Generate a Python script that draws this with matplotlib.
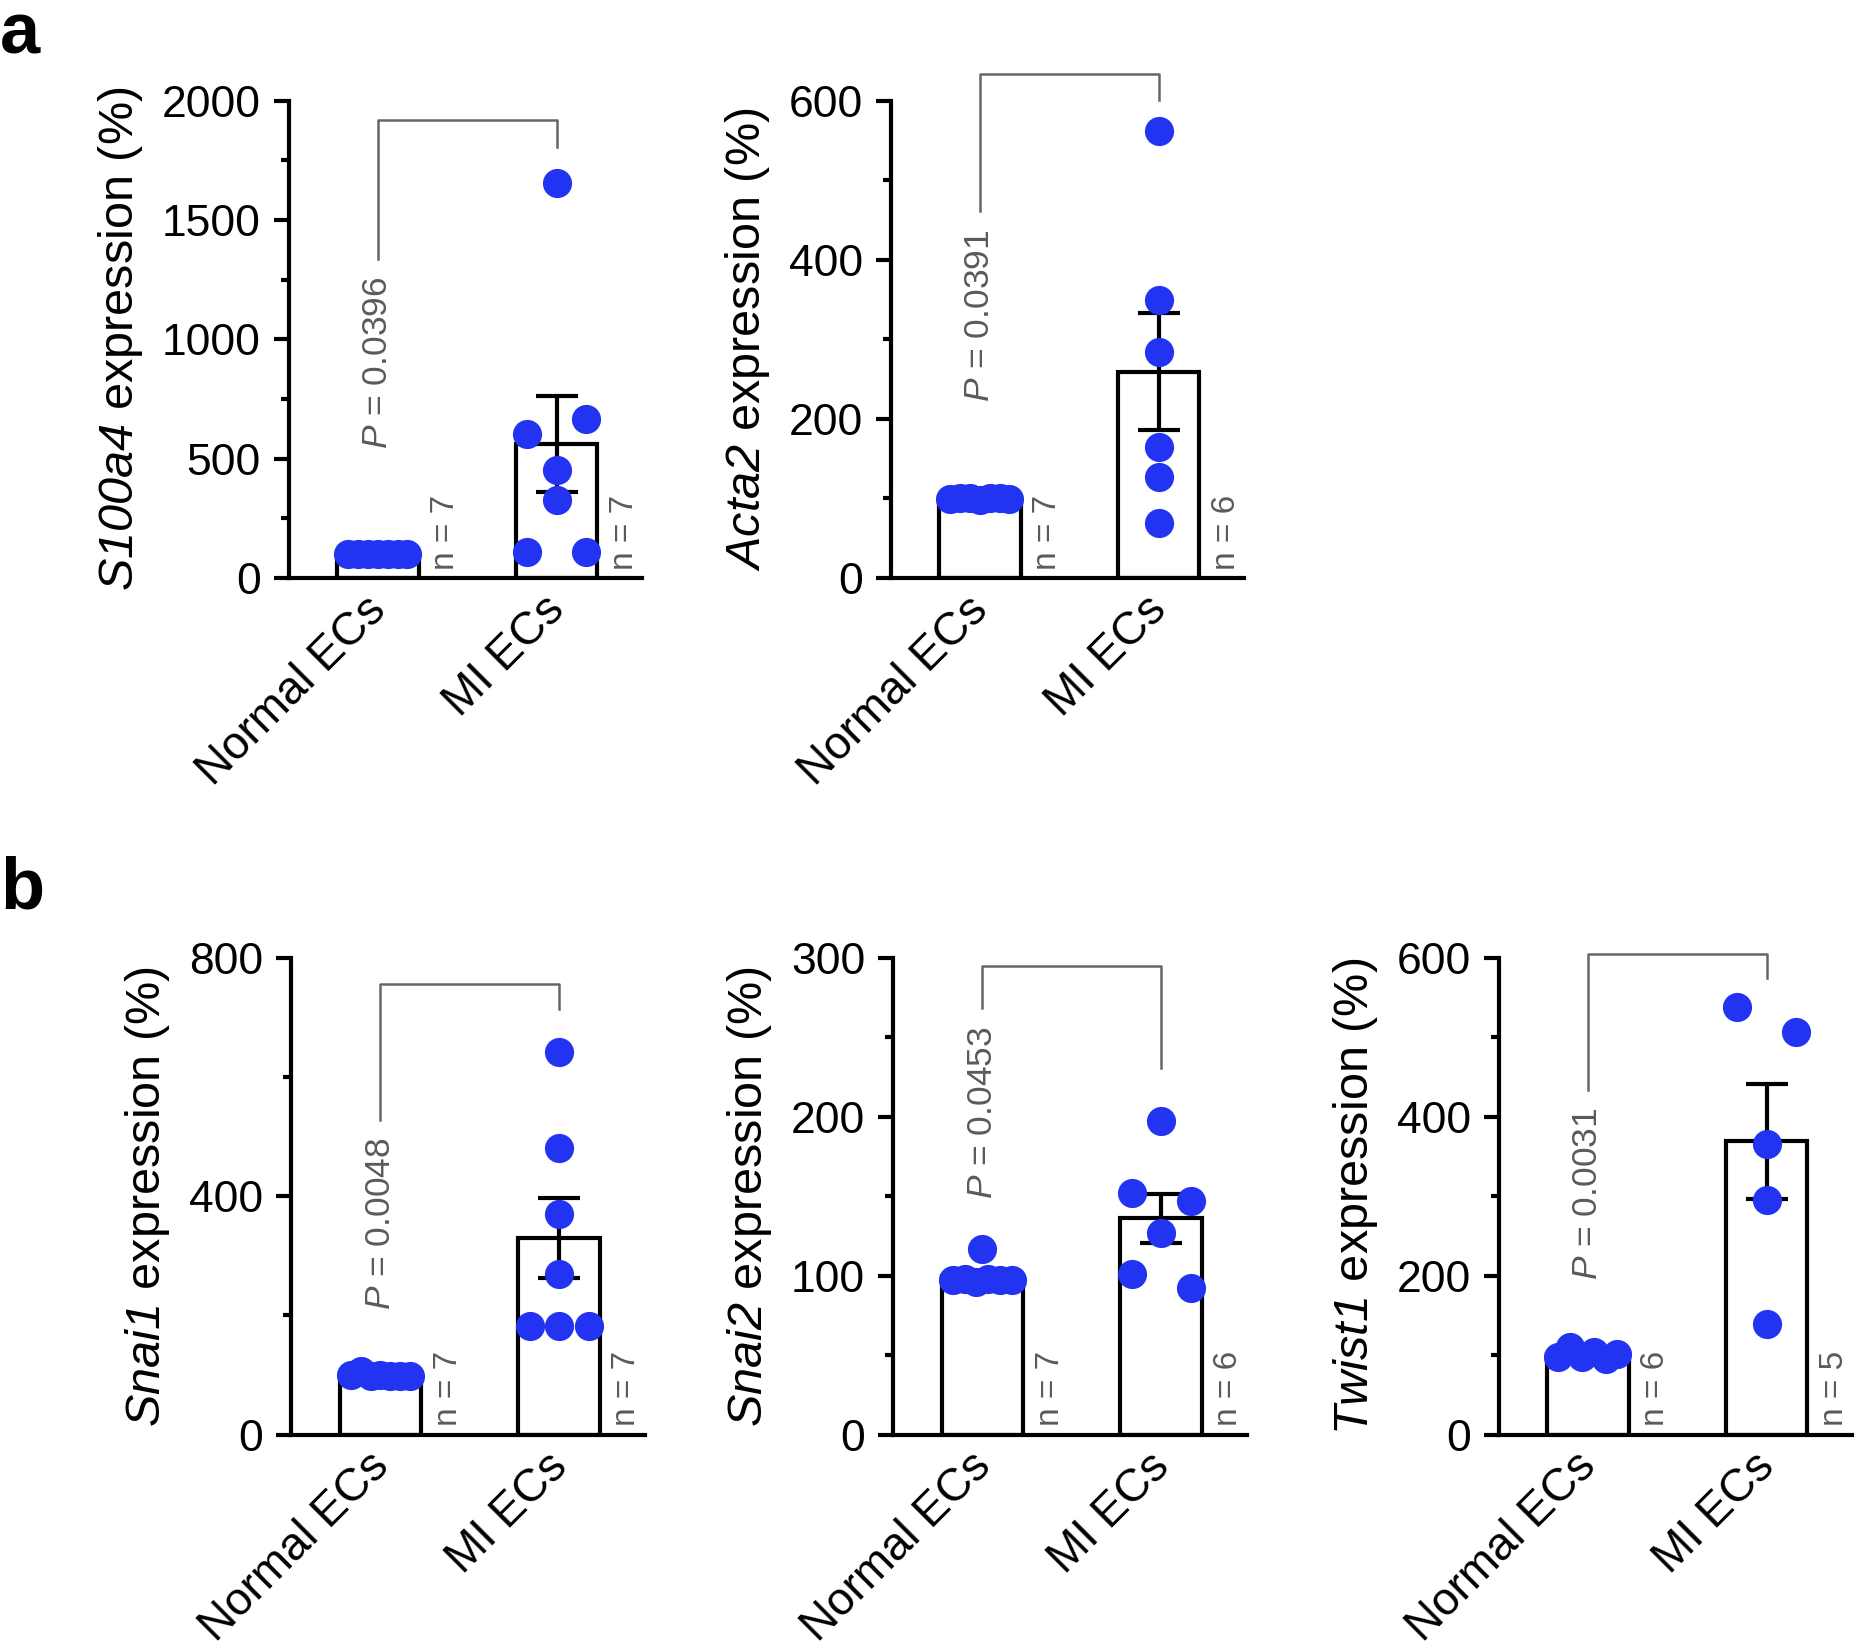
import numpy as np
import matplotlib
matplotlib.use('Agg')
import matplotlib.pyplot as plt
import matplotlib.transforms as mtransforms
from matplotlib.ticker import MultipleLocator

plt.rcParams['font.family'] = ['Liberation Sans', 'DejaVu Sans']
plt.rcParams['mathtext.fontset'] = 'custom'
plt.rcParams['mathtext.rm'] = 'Liberation Sans'
plt.rcParams['mathtext.it'] = 'Liberation Sans:italic'
# sf slot used for gene names so the digits come out italic too
plt.rcParams['mathtext.sf'] = 'Liberation Sans:italic'

groups = ['Normal ECs', 'MI ECs']

# per-animal expression values (%)
s100a4_normal = [100, 101, 99, 100, 98, 102, 100]
s100a4_mi = [601, 665, 453, 325, 108, 108, 1657]
acta2_normal = [99, 101, 100, 98, 100, 101, 99]
acta2_mi = [562, 349, 284, 164, 127, 69]
snai1_normal = [100, 106, 98, 100, 99, 98, 99]
snai1_mi = [642, 481, 370, 270, 183, 183, 183]
snai2_normal = [97, 117, 98, 96, 98, 97, 97]
snai2_mi = [197, 152, 147, 127, 101, 92]
twist1_normal = [98, 110, 98, 104, 95, 102]
twist1_mi = [538, 507, 365, 295, 139]

genes = ['S100a4', 'Acta2', 'Snai1', 'Snai2', 'Twist1']
p_values = ['0.0396', '0.0391', '0.0048', '0.0453', '0.0031']

BLUE = '#2233F2'
GREY = '#5a5a5a'
AX_H = 0.289

fig = plt.figure(figsize=(18.62, 16.51), dpi=100)


def swarm(values, thresh, half=0.165):
    values = np.asarray(values, float)
    order = np.argsort(values, kind='stable')
    offsets = np.zeros(len(values))
    i = 0
    while i < len(order):
        row = [order[i]]
        j = i + 1
        while j < len(order) and values[order[j]] - values[order[i]] < thresh:
            row.append(order[j])
            j += 1
        row.sort()
        if len(row) > 1:
            offsets[row] = np.linspace(-half, half, len(row))
        i = j
    return offsets


def panel(rect, normal, mi, gene, p, ymax, major, minor, bracket):
    ax = fig.add_axes(rect)
    data = [normal, mi]
    means = [np.mean(d) for d in data]
    sems = [np.std(d, ddof=1) / np.sqrt(len(d)) for d in data]
    x = np.arange(2)

    ax.bar(x, means, width=0.455, color='white', edgecolor='black', linewidth=3, zorder=2)
    ax.errorbar(x, means, yerr=sems, fmt='none', ecolor='black', elinewidth=3,
                capsize=15, capthick=3, zorder=3)

    px_per_unit = AX_H * 16.51 * 100 / ymax
    for i, d in enumerate(data):
        off = swarm(d, 27 / px_per_unit)
        ax.plot(i + off, d, 'o', ms=21, color=BLUE, mec='none', zorder=4, clip_on=False)
        ax.annotate('n = %d' % len(d), (i + 0.38, 0), xytext=(0, 6), textcoords='offset points',
                    rotation=90, ha='center', va='bottom', fontsize=24, color=GREY)

    top, left, right = bracket
    ax.plot([0, 0, 1, 1], [left, top, top, right], color='#666666', lw=1.8, clip_on=False)
    ax.annotate('$P$ = ' + p, (0, left), xytext=(0, -13), textcoords='offset points',
                rotation=90, ha='center', va='top', fontsize=25.5, color=GREY)

    ax.set_xlim(-0.5, 1.48)
    ax.set_ylim(0, ymax)
    ax.yaxis.set_major_locator(MultipleLocator(major))
    ax.yaxis.set_minor_locator(MultipleLocator(minor))
    for s in ['top', 'right']:
        ax.spines[s].set_visible(False)
    for s in ['left', 'bottom']:
        ax.spines[s].set_linewidth(3)
    ax.tick_params(axis='y', which='major', length=11, width=3, labelsize=32, pad=9)
    ax.tick_params(axis='y', which='minor', length=6, width=3)
    ax.set_xticks(x)
    ax.set_xticklabels(groups, rotation=45, ha='right', va='top', rotation_mode='anchor', fontsize=33)
    ax.tick_params(axis='x', length=0, pad=10)
    shift = mtransforms.ScaledTranslation(-14 / 100, 4 / 100, fig.dpi_scale_trans)
    for lab in ax.get_xticklabels():
        lab.set_transform(lab.get_transform() + shift)
    ax.set_ylabel(r'$\mathsf{%s}$ expression (%%)' % gene, fontsize=35, labelpad=12)
    return ax


panel([0.155, 0.650, 0.19, AX_H], s100a4_normal, s100a4_mi, genes[0], p_values[0],
      2000, 500, 250, (1920, 1337, 1807))
panel([0.4783, 0.650, 0.19, AX_H], acta2_normal, acta2_mi, genes[1], p_values[1],
      600, 200, 100, (634, 461, 601))
panel([0.1563, 0.131, 0.19, AX_H], snai1_normal, snai1_mi, genes[2], p_values[2],
      800, 400, 200, (756, 528, 713))
panel([0.4796, 0.131, 0.19, AX_H], snai2_normal, snai2_mi, genes[3], p_values[3],
      300, 100, 50, (294.5, 268, 230.5))
panel([0.8048, 0.131, 0.19, AX_H], twist1_normal, twist1_mi, genes[4], p_values[4],
      600, 200, 100, (605, 434, 574))

fig.text(0.0, 1 - 53 / 1651, 'a', fontsize=52, fontweight='bold', va='baseline')
fig.text(0.0, 1 - 908 / 1651, 'b', fontsize=52, fontweight='bold', va='baseline')

fig.savefig('out.png', dpi=100)
